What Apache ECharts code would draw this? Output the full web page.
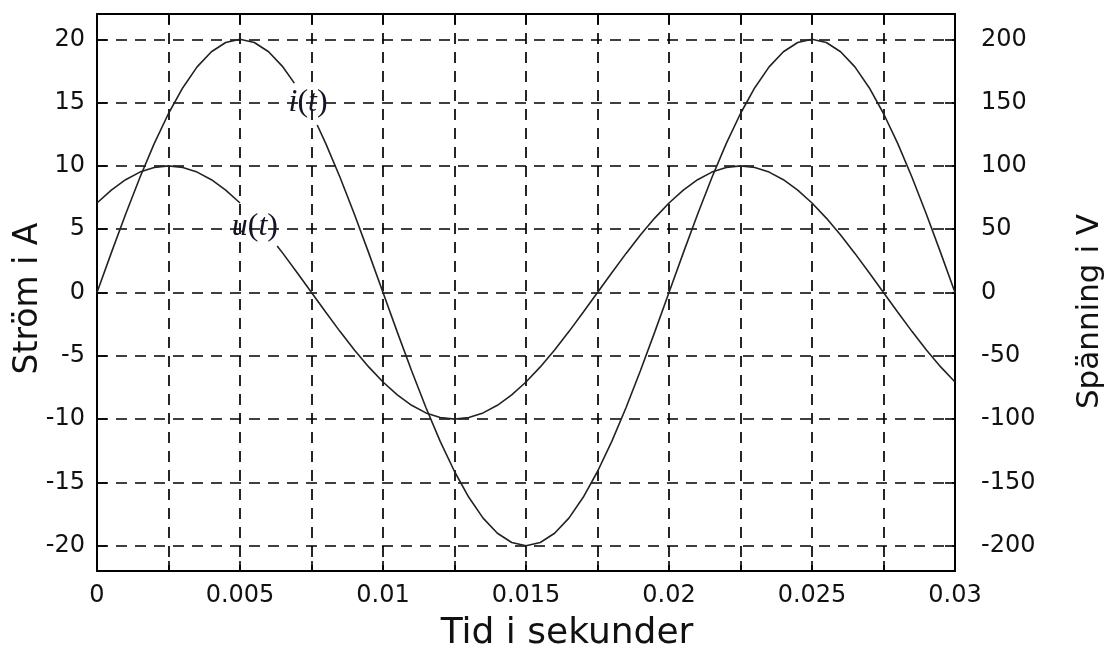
<!DOCTYPE html>
<html>
<head>
<meta charset="utf-8">
<script src="https://cdn.jsdelivr.net/npm/echarts@6/dist/echarts.min.js"></script>
<style>
  html, body { margin: 0; padding: 0; background: #fff; }
  #chart { width: 1108px; height: 648px; }
</style>
</head>
<body>
<div id="chart"></div>
<script>
// ström i(t), A  (glapp vid etiketten)
var currentTime = [0,0.0005,0.001,0.0015,0.002,0.0025,0.003,0.0035,0.004,0.0045,0.005,0.0055,0.006,0.0065,
  0.0069,0.0073,0.0077,
  0.008,0.0085,0.009,0.0095,0.01,0.0105,0.011,0.0115,0.012,0.0125,0.013,0.0135,0.014,0.0145,0.015,
  0.0155,0.016,0.0165,0.017,0.0175,0.018,0.0185,0.019,0.0195,0.02,0.0205,0.021,0.0215,0.022,0.0225,
  0.023,0.0235,0.024,0.0245,0.025,0.0255,0.026,0.0265,0.027,0.0275,0.028,0.0285,0.029,0.0295,0.03];
var currentA = [0,3.13,6.18,9.08,11.76,14.14,16.18,17.82,19.02,19.75,20,19.75,19.02,17.82,
  16.54,null,13.23,
  11.76,9.08,6.18,3.13,0,
  -3.13,-6.18,-9.08,-11.76,-14.14,-16.18,-17.82,-19.02,-19.75,-20,
  -19.75,-19.02,-17.82,-16.18,-14.14,-11.76,-9.08,-6.18,-3.13,0,
  3.13,6.18,9.08,11.76,14.14,16.18,17.82,19.02,19.75,20,
  19.75,19.02,17.82,16.18,14.14,11.76,9.08,6.18,3.13,0];

// spänning u(t), V
var voltageTime = [0,0.0005,0.001,0.0015,0.002,0.0025,0.003,0.0035,0.004,0.0045,0.005,
  0.0058,0.0063,
  0.0065,0.007,0.0075,0.008,0.0085,0.009,0.0095,0.01,0.0105,0.011,0.0115,0.012,0.0125,0.013,0.0135,
  0.014,0.0145,0.015,0.0155,0.016,0.0165,0.017,0.0175,0.018,0.0185,0.019,0.0195,0.02,0.0205,0.021,
  0.0215,0.022,0.0225,0.023,0.0235,0.024,0.0245,0.025,0.0255,0.026,0.0265,0.027,0.0275,0.028,0.0285,
  0.029,0.0295,0.03];
var voltageV = [70.71,80.9,89.1,95.11,98.77,100,98.77,95.11,89.1,80.9,70.71,
  null,36.81,
  30.9,15.64,0,-15.64,-30.9,-45.4,-58.78,-70.71,
  -80.9,-89.1,-95.11,-98.77,-100,-98.77,-95.11,-89.1,-80.9,-70.71,
  -58.78,-45.4,-30.9,-15.64,0,15.64,30.9,45.4,58.78,70.71,
  80.9,89.1,95.11,98.77,100,98.77,95.11,89.1,80.9,70.71,
  58.78,45.4,30.9,15.64,0,-15.64,-30.9,-45.4,-58.78,-70.71];

var xTickLabels = ['0','0.005','0.01','0.015','0.02','0.025','0.03'];

var labelI = [0.00738, 15.0];   // i(t), A-skala
var labelU = [0.00552, 51.9];   // u(t), V-skala

function pairs(t, v) {
  return t.map(function (x, k) { return [x, v[k] === null ? '-' : v[k]]; });
}

var black = '#000';
var sans = 'DejaVu Sans';
var gridLine = { show: true, lineStyle: { color: black, type: [11, 8], width: 1.7 } };
var tickIn = { show: true, inside: true, length: 10, lineStyle: { color: black, width: 1.6 } };
var axLine = { show: true, onZero: false, lineStyle: { color: black, width: 2 } };
var rich = {
  it: { fontFamily: 'Liberation Serif', fontStyle: 'italic', fontSize: 32, color: '#141428' },
  up: { fontFamily: 'Liberation Serif', fontSize: 32, color: '#141428' }
};

var chart = echarts.init(document.getElementById('chart'));
chart.setOption({
  animation: false,
  backgroundColor: '#fff',
  grid: { left: 97, right: 153, top: 14, bottom: 77, outerBoundsMode: 'none', containLabel: false },
  xAxis: [{
    type: 'value', min: 0, max: 0.03, interval: 0.0025, position: 'bottom',
    name: 'Tid i sekunder', nameLocation: 'middle', nameGap: 45,
    nameTextStyle: { fontFamily: sans, fontSize: 36, color: '#111', padding: [0, 0, 0, 82] },
    axisLine: axLine, axisTick: tickIn, splitLine: gridLine,
    axisLabel: {
      margin: 13, fontFamily: sans, fontSize: 24, color: '#111',
      formatter: function (v) {
        var k = Math.round(v / 0.005);
        return Math.abs(v / 0.005 - k) < 1e-6 ? xTickLabels[k] : '';
      }
    }
  }, {
    type: 'value', min: 0, max: 0.03, interval: 0.0025, position: 'top',
    axisLine: axLine, axisTick: tickIn, splitLine: { show: false },
    axisLabel: { show: false }
  }],
  yAxis: [{
    type: 'value', min: -22, max: 22, splitNumber: 9, position: 'left',
    name: 'Ström i A', nameLocation: 'middle', nameRotate: 90, nameGap: 52, nameMoveOverlap: false,
    nameTextStyle: { fontFamily: sans, fontSize: 33, color: '#111', padding: [0, 12, 0, 0] },
    axisLine: axLine, axisTick: tickIn, splitLine: gridLine,
    axisLabel: { margin: 12, fontFamily: sans, fontSize: 24, color: '#111', showMinLabel: false, showMaxLabel: false }
  }, {
    type: 'value', min: -220, max: 220, splitNumber: 9, position: 'right',
    name: 'Spänning i V', nameLocation: 'middle', nameRotate: 90, nameGap: 119, nameMoveOverlap: false,
    nameTextStyle: { fontFamily: sans, fontSize: 31, color: '#111', padding: [0, 38, 0, 0] },
    axisLine: axLine, axisTick: tickIn, splitLine: { show: false },
    axisLabel: { margin: 26, fontFamily: sans, fontSize: 24, color: '#111', showMinLabel: false, showMaxLabel: false }
  }],
  series: [{
    name: 'i(t)', type: 'line', xAxisIndex: 0, yAxisIndex: 0,
    data: pairs(currentTime, currentA), showSymbol: false, connectNulls: false,
    lineStyle: { color: '#222', width: 1.6 },
    markPoint: {
      symbol: 'circle', symbolSize: 1, itemStyle: { color: 'rgba(0,0,0,0)' },
      label: { show: true, position: 'inside', formatter: '{it|i}{up|(}{it|t}{up|)}', rich: rich },
      data: [{ coord: labelI }]
    }
  }, {
    name: 'u(t)', type: 'line', xAxisIndex: 0, yAxisIndex: 1,
    data: pairs(voltageTime, voltageV), showSymbol: false, connectNulls: false,
    lineStyle: { color: '#222', width: 1.6 },
    markPoint: {
      symbol: 'circle', symbolSize: 1, itemStyle: { color: 'rgba(0,0,0,0)' },
      label: { show: true, position: 'inside', formatter: '{it|u}{up|(}{it|t}{up|)}', rich: rich },
      data: [{ coord: labelU }]
    }
  }]
});
</script>
</body>
</html>
